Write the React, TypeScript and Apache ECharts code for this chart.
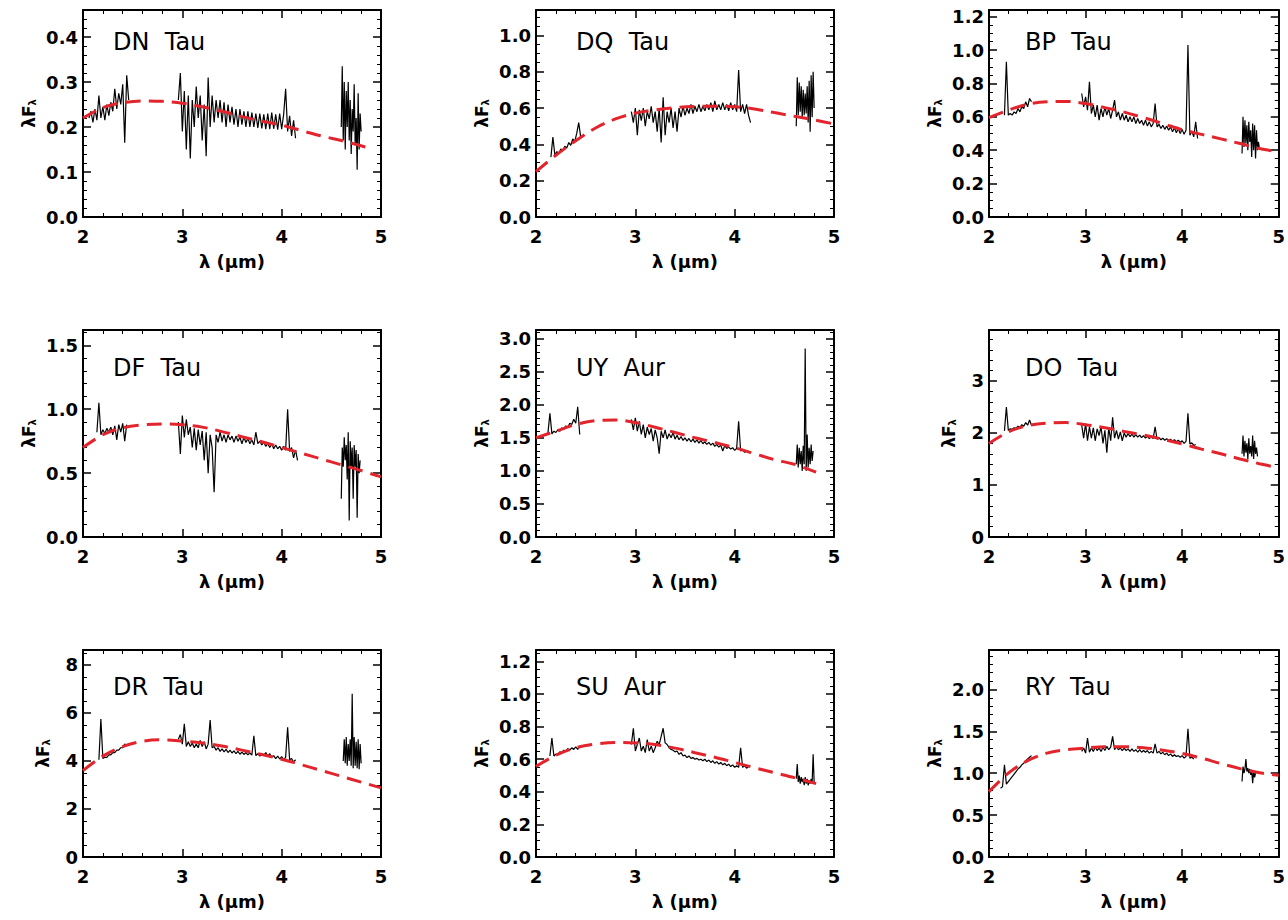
import React, { useEffect, useRef } from 'react';
import * as echarts from 'echarts';

// ---------- tick labels / names ----------
const xTickValues = [2, 3, 4, 5];
const starNames = ['DN  Tau', 'DQ  Tau', 'BP  Tau', 'DF  Tau', 'UY  Aur', 'DO  Tau', 'DR  Tau', 'SU  Aur', 'RY  Tau'];
const yMaxes = [0.46, 1.14, 1.24, 1.62, 3.13, 3.98, 8.62, 1.27, 2.47];
const yIntervals = [0.1, 0.2, 0.2, 0.5, 0.5, 1, 2, 0.2, 0.5];

// ---------- DN Tau ----------
const dnTauRanges = [[2.06, 2.46], [2.96, 4.14], [4.6, 4.8]];
const dnTauK = [0.22, 0.235, 0.21, 0.24, 0.215, 0.27, 0.22, 0.245, 0.215, 0.25, 0.225, 0.255, 0.235, 0.285, 0.24, 0.275, 0.25, 0.295, 0.165, 0.315, 0.26];
const dnTauL = [0.26, 0.32, 0.19, 0.28, 0.15, 0.27, 0.13, 0.26, 0.2, 0.29, 0.22, 0.27, 0.17, 0.25, 0.135, 0.31, 0.2, 0.27, 0.21, 0.26, 0.22, 0.26, 0.21, 0.255, 0.2, 0.25, 0.21, 0.245, 0.205, 0.24, 0.2, 0.24, 0.205, 0.235, 0.2, 0.235, 0.2, 0.232, 0.2, 0.23, 0.198, 0.23, 0.197, 0.228, 0.195, 0.23, 0.195, 0.232, 0.196, 0.228, 0.194, 0.23, 0.195, 0.228, 0.285, 0.19, 0.225, 0.18, 0.215, 0.175];
const dnTauM = [0.2, 0.335, 0.17, 0.3, 0.15, 0.28, 0.2, 0.3, 0.17, 0.26, 0.14, 0.24, 0.19, 0.295, 0.16, 0.22, 0.105, 0.275, 0.15, 0.23, 0.19];
const dnTauModel = [[2.0, 0.22], [2.2, 0.243], [2.4, 0.254], [2.6, 0.258], [2.8, 0.257], [3.0, 0.253], [3.2, 0.245], [3.4, 0.235], [3.6, 0.223], [3.8, 0.213], [4.0, 0.204], [4.2, 0.192], [4.4, 0.18], [4.6, 0.17], [4.85, 0.155]];

// ---------- DQ Tau ----------
const dqTauRanges = [[2.15, 2.45], [2.96, 4.16], [4.62, 4.8]];
const dqTauK = [0.33, 0.44, 0.34, 0.36, 0.35, 0.375, 0.365, 0.39, 0.38, 0.41, 0.395, 0.43, 0.415, 0.46, 0.52, 0.44];
const dqTauL = [0.58, 0.52, 0.6, 0.45, 0.59, 0.53, 0.6, 0.5, 0.58, 0.54, 0.61, 0.52, 0.58, 0.47, 0.6, 0.41, 0.66, 0.45, 0.58, 0.52, 0.6, 0.49, 0.58, 0.47, 0.6, 0.55, 0.61, 0.56, 0.6, 0.57, 0.62, 0.57, 0.61, 0.58, 0.62, 0.58, 0.61, 0.585, 0.62, 0.59, 0.63, 0.58, 0.64, 0.59, 0.62, 0.59, 0.63, 0.59, 0.62, 0.585, 0.63, 0.59, 0.62, 0.58, 0.81, 0.58, 0.62, 0.57, 0.62, 0.56, 0.52];
const dqTauM = [0.5, 0.77, 0.56, 0.74, 0.58, 0.72, 0.55, 0.7, 0.56, 0.68, 0.57, 0.72, 0.52, 0.75, 0.47, 0.78, 0.55, 0.8, 0.6];
const dqTauModel = [[2.0, 0.25], [2.2, 0.34], [2.4, 0.42], [2.6, 0.49], [2.8, 0.54], [3.0, 0.572], [3.2, 0.59], [3.4, 0.602], [3.6, 0.608], [3.8, 0.61], [4.0, 0.607], [4.2, 0.595], [4.4, 0.575], [4.6, 0.555], [4.8, 0.535], [5.0, 0.512]];

// ---------- BP Tau ----------
const bpTauRanges = [[2.16, 2.44], [2.96, 4.16], [4.62, 4.8]];
const bpTauK = [0.61, 0.93, 0.61, 0.62, 0.61, 0.63, 0.62, 0.65, 0.63, 0.66, 0.65, 0.69, 0.66, 0.71, 0.69];
const bpTauL = [0.74, 0.66, 0.72, 0.64, 0.81, 0.62, 0.67, 0.6, 0.67, 0.58, 0.65, 0.6, 0.66, 0.61, 0.65, 0.59, 0.64, 0.7, 0.6, 0.63, 0.58, 0.62, 0.58, 0.61, 0.57, 0.6, 0.57, 0.6, 0.56, 0.59, 0.56, 0.58, 0.55, 0.58, 0.545, 0.57, 0.54, 0.56, 0.68, 0.54, 0.555, 0.53, 0.55, 0.525, 0.545, 0.52, 0.54, 0.51, 0.535, 0.505, 0.53, 0.5, 0.525, 0.495, 0.52, 1.03, 0.49, 0.515, 0.48, 0.57, 0.47];
const bpTauM = [0.38, 0.6, 0.42, 0.58, 0.44, 0.55, 0.4, 0.57, 0.45, 0.52, 0.36, 0.56, 0.4, 0.55, 0.35, 0.52, 0.4, 0.45, 0.41];
const bpTauModel = [[2.0, 0.595], [2.2, 0.64], [2.4, 0.675], [2.6, 0.69], [2.8, 0.692], [3.0, 0.68], [3.2, 0.655], [3.4, 0.628], [3.6, 0.595], [3.8, 0.56], [4.0, 0.523], [4.2, 0.495], [4.4, 0.468], [4.6, 0.44], [4.8, 0.41], [5.0, 0.39]];

// ---------- DF Tau ----------
const dfTauRanges = [[2.14, 2.44], [2.96, 4.16], [4.6, 4.79]];
const dfTauK = [0.82, 1.05, 0.8, 0.84, 0.81, 0.85, 0.82, 0.86, 0.8, 0.87, 0.76, 0.88, 0.82, 0.89, 0.75, 0.88];
const dfTauL = [0.9, 0.65, 0.95, 0.78, 0.92, 0.8, 0.86, 0.7, 0.85, 0.68, 0.84, 0.72, 0.83, 0.6, 0.82, 0.5, 0.8, 0.7, 0.35, 0.8, 0.74, 0.82, 0.75, 0.8, 0.74, 0.8, 0.76, 0.79, 0.74, 0.79, 0.75, 0.78, 0.73, 0.78, 0.74, 0.77, 0.73, 0.76, 0.72, 0.82, 0.73, 0.75, 0.72, 0.74, 0.71, 0.73, 0.7, 0.73, 0.69, 0.72, 0.69, 0.71, 0.68, 0.71, 0.68, 1.0, 0.67, 0.7, 0.62, 0.68, 0.6];
const dfTauM = [0.3, 0.7, 0.55, 0.78, 0.6, 0.72, 0.45, 0.82, 0.13, 0.75, 0.55, 0.7, 0.3, 0.72, 0.55, 0.68, 0.15, 0.65, 0.5, 0.6];
const dfTauModel = [[2.0, 0.7], [2.2, 0.8], [2.4, 0.855], [2.6, 0.878], [2.8, 0.885], [3.0, 0.878], [3.2, 0.86], [3.4, 0.825], [3.6, 0.785], [3.8, 0.745], [4.0, 0.7], [4.2, 0.655], [4.4, 0.61], [4.6, 0.565], [4.8, 0.52], [5.0, 0.47]];

// ---------- UY Aur ----------
const uyAurRanges = [[2.12, 2.44], [2.96, 4.12], [4.62, 4.79]];
const uyAurK = [1.57, 1.87, 1.56, 1.6, 1.58, 1.62, 1.6, 1.65, 1.63, 1.68, 1.66, 1.72, 1.7, 1.78, 1.72, 1.97, 1.55];
const uyAurL = [1.78, 1.62, 1.8, 1.6, 1.75, 1.55, 1.7, 1.5, 1.66, 1.55, 1.64, 1.45, 1.62, 1.5, 1.26, 1.6, 1.5, 1.62, 1.48, 1.56, 1.5, 1.58, 1.48, 1.54, 1.47, 1.52, 1.46, 1.5, 1.45, 1.49, 1.44, 1.48, 1.43, 1.47, 1.42, 1.46, 1.41, 1.44, 1.4, 1.43, 1.39, 1.42, 1.37, 1.4, 1.36, 1.39, 1.3, 1.38, 1.34, 1.36, 1.33, 1.35, 1.31, 1.34, 1.75, 1.3, 1.32, 1.28, 1.3];
const uyAurM = [1.1, 1.4, 1.05, 1.35, 1.1, 1.3, 1.0, 1.38, 1.1, 2.85, 1.0, 1.55, 1.05, 1.35, 1.1, 1.4, 1.15, 1.3];
const uyAurModel = [[2.0, 1.5], [2.2, 1.6], [2.4, 1.7], [2.6, 1.76], [2.8, 1.77], [3.0, 1.73], [3.2, 1.66], [3.4, 1.58], [3.6, 1.5], [3.8, 1.43], [4.0, 1.35], [4.2, 1.26], [4.4, 1.17], [4.6, 1.1], [4.82, 0.98]];

// ---------- DO Tau ----------
const doTauRanges = [[2.16, 2.44], [2.96, 4.14], [4.62, 4.78]];
const doTauK = [2.04, 2.5, 2.05, 2.08, 2.07, 2.1, 2.09, 2.13, 2.11, 2.16, 2.13, 2.2, 2.15, 2.25, 2.15];
const doTauL = [2.15, 1.9, 2.18, 1.85, 2.12, 1.9, 2.1, 1.85, 2.08, 1.95, 2.12, 1.8, 2.05, 1.62, 2.1, 1.85, 2.3, 1.9, 2.05, 1.88, 2.02, 1.85, 2.0, 1.92, 1.99, 1.93, 1.98, 1.92, 1.97, 1.92, 1.96, 1.91, 1.95, 1.9, 1.94, 1.89, 1.93, 1.89, 2.12, 1.88, 1.91, 1.87, 1.9, 1.86, 1.89, 1.85, 1.88, 1.84, 1.87, 1.83, 1.86, 1.82, 1.85, 1.8, 1.84, 2.38, 1.79, 1.81, 1.76, 1.78];
const doTauM = [1.6, 1.95, 1.55, 1.85, 1.62, 1.8, 1.5, 1.9, 1.6, 1.75, 1.55, 1.95, 1.5, 1.85, 1.6, 1.72, 1.55];
const doTauModel = [[2.0, 1.8], [2.2, 2.02], [2.4, 2.14], [2.6, 2.19], [2.8, 2.2], [3.0, 2.16], [3.2, 2.1], [3.4, 2.03], [3.6, 1.96], [3.8, 1.88], [4.0, 1.79], [4.2, 1.69], [4.4, 1.6], [4.6, 1.5], [4.8, 1.41], [5.0, 1.33]];

// ---------- DR Tau ----------
const drTauRanges = [[2.16, 2.44], [2.96, 4.14], [4.62, 4.8]];
const drTauK = [4.05, 5.75, 4.1, 4.15, 4.15, 4.25, 4.25, 4.35, 4.35, 4.45, 4.45, 4.55, 4.55, 4.7, 4.65];
const drTauL = [4.9, 5.1, 4.7, 5.55, 4.6, 4.8, 4.6, 4.75, 4.55, 4.7, 4.55, 4.85, 4.6, 4.8, 4.5, 4.7, 5.7, 4.55, 4.6, 4.45, 4.55, 4.4, 4.5, 4.38, 4.48, 4.35, 4.45, 4.33, 4.42, 4.3, 4.4, 4.28, 4.37, 4.27, 4.35, 4.25, 4.33, 4.24, 5.05, 4.22, 4.3, 4.2, 4.3, 4.22, 4.35, 4.2, 4.3, 4.15, 4.22, 4.1, 4.2, 4.08, 4.18, 4.05, 4.15, 5.4, 4.05, 4.1, 3.95, 4.05];
const drTauM = [4.0, 4.9, 3.9, 5.0, 3.8, 4.7, 4.0, 4.9, 3.8, 6.8, 3.7, 5.0, 3.8, 4.8, 3.7, 4.9, 3.65, 4.7, 3.9];
const drTauModel = [[2.0, 3.6], [2.2, 4.2], [2.4, 4.6], [2.6, 4.82], [2.8, 4.88], [3.0, 4.83], [3.2, 4.75], [3.4, 4.62], [3.6, 4.45], [3.8, 4.27], [4.0, 4.07], [4.2, 3.84], [4.4, 3.6], [4.6, 3.36], [4.8, 3.12], [5.0, 2.88]];

// ---------- SU Aur ----------
const suAurRanges = [[2.14, 2.44], [2.96, 4.14], [4.62, 4.8]];
const suAurK = [0.62, 0.73, 0.62, 0.63, 0.63, 0.645, 0.64, 0.655, 0.65, 0.665, 0.655, 0.67, 0.66, 0.675, 0.66, 0.68];
const suAurL = [0.69, 0.79, 0.65, 0.69, 0.73, 0.65, 0.68, 0.64, 0.72, 0.65, 0.68, 0.64, 0.67, 0.71, 0.69, 0.74, 0.79, 0.7, 0.69, 0.67, 0.66, 0.655, 0.645, 0.65, 0.63, 0.64, 0.62, 0.625, 0.61, 0.62, 0.605, 0.61, 0.6, 0.605, 0.595, 0.6, 0.59, 0.6, 0.585, 0.595, 0.58, 0.59, 0.575, 0.585, 0.57, 0.58, 0.565, 0.575, 0.56, 0.57, 0.555, 0.565, 0.55, 0.56, 0.55, 0.67, 0.55, 0.56, 0.545, 0.555];
const suAurM = [0.48, 0.57, 0.46, 0.5, 0.45, 0.49, 0.46, 0.48, 0.44, 0.49, 0.45, 0.48, 0.44, 0.47, 0.45, 0.48, 0.46, 0.63, 0.46];
const suAurModel = [[2.0, 0.555], [2.2, 0.625], [2.4, 0.67], [2.6, 0.693], [2.8, 0.702], [3.0, 0.7], [3.2, 0.69], [3.4, 0.668], [3.6, 0.64], [3.8, 0.612], [4.0, 0.58], [4.2, 0.548], [4.4, 0.517], [4.6, 0.487], [4.82, 0.45]];

// ---------- RY Tau ----------
const ryTauRanges = [[2.12, 2.44], [2.96, 4.12], [4.62, 4.76]];
const ryTauK = [0.82, 0.84, 1.1, 0.87, 0.9, 0.93, 0.96, 0.99, 1.02, 1.05, 1.07, 1.1, 1.12, 1.15, 1.17, 1.19, 1.21];
const ryTauL = [1.26, 1.3, 1.24, 1.42, 1.25, 1.3, 1.26, 1.31, 1.27, 1.3, 1.26, 1.31, 1.27, 1.32, 1.28, 1.31, 1.44, 1.28, 1.32, 1.28, 1.3, 1.27, 1.3, 1.27, 1.29, 1.26, 1.29, 1.26, 1.28, 1.25, 1.28, 1.25, 1.27, 1.25, 1.27, 1.24, 1.26, 1.24, 1.35, 1.24, 1.26, 1.23, 1.25, 1.22, 1.24, 1.21, 1.23, 1.2, 1.22, 1.2, 1.21, 1.19, 1.21, 1.18, 1.2, 1.53, 1.18, 1.19, 1.17];
const ryTauM = [0.9, 1.08, 1.0, 1.05, 1.17, 1.02, 1.06, 1.0, 1.05, 0.98, 1.04, 0.88, 1.03, 0.95, 1.0];
const ryTauModel = [[2.0, 0.78], [2.2, 1.0], [2.4, 1.15], [2.6, 1.24], [2.8, 1.28], [3.0, 1.3], [3.2, 1.315], [3.4, 1.315], [3.6, 1.305], [3.8, 1.275], [4.0, 1.235], [4.2, 1.18], [4.4, 1.115], [4.6, 1.055], [4.8, 1.005], [5.0, 0.975]];

const panelRanges = [dnTauRanges, dqTauRanges, bpTauRanges, dfTauRanges, uyAurRanges, doTauRanges, drTauRanges, suAurRanges, ryTauRanges];
const panelSegments = [
  [dnTauK, dnTauL, dnTauM], [dqTauK, dqTauL, dqTauM], [bpTauK, bpTauL, bpTauM],
  [dfTauK, dfTauL, dfTauM], [uyAurK, uyAurL, uyAurM], [doTauK, doTauL, doTauM],
  [drTauK, drTauL, drTauM], [suAurK, suAurL, suAurM], [ryTauK, ryTauL, ryTauM],
];
const panelModels = [dnTauModel, dqTauModel, bpTauModel, dfTauModel, uyAurModel, doTauModel, drTauModel, suAurModel, ryTauModel];

// ---------- layout ----------
const FONT = 'DejaVu Sans';
const COL_LEFT = [83, 536, 989];
const ROW_TOP = [10, 330, 650];
const PW = 298;
const PH = 207;
const NAME_DX = [30, 40, 36];
const NAME_DY = [32, 38, 37];
const RED = '#e2252c';

function buildOption() {
  const grid: any[] = [];
  const xAxis: any[] = [];
  const yAxis: any[] = [];
  const series: any[] = [];
  const graphic: any[] = [];

  const tickStyle = { color: '#000', width: 1.5 };
  const minorStyle = { color: '#000', width: 1 };
  const lineStyle = { color: '#000', width: 2 };

  for (let i = 0; i < 9; i++) {
    const col = i % 3;
    const row = Math.floor(i / 3);
    const left = COL_LEFT[col];
    const top = ROW_TOP[row];
    grid.push({ left, top, width: PW, height: PH, show: false, containLabel: false });

    const interval = yIntervals[i];
    const dec = interval < 1 ? 1 : 0;
    const yMinor = interval === 0.2 || interval === 2 ? 4 : 5;

    const xBase = {
      gridIndex: i, type: 'value', min: 2, max: 5, interval: 1,
      axisLine: { show: true, onZero: false, lineStyle },
      axisTick: { show: true, inside: true, length: 8, lineStyle: tickStyle },
      minorTick: { show: true, splitNumber: 5, length: 4, lineStyle: minorStyle },
      splitLine: { show: false }, minorSplitLine: { show: false },
    };
    xAxis.push({
      ...xBase, position: 'bottom',
      axisLabel: {
        show: true, color: '#000', fontSize: 18, fontWeight: 'bold', fontFamily: FONT, margin: 10,
        formatter: (v: number) => (xTickValues.includes(Math.round(v)) && Math.abs(v - Math.round(v)) < 1e-6 ? String(Math.round(v)) : ''),
      },
      name: 'λ (μm)', nameLocation: 'middle', nameGap: 35,
      nameTextStyle: { color: '#000', fontSize: 18, fontWeight: 'bold', fontFamily: FONT },
    });
    xAxis.push({ ...xBase, position: 'top', axisLabel: { show: false } });

    const yBase = {
      gridIndex: i, type: 'value', min: 0, max: yMaxes[i], interval,
      axisLine: { show: true, onZero: false, lineStyle },
      axisTick: { show: true, inside: true, length: 8, lineStyle: tickStyle },
      minorTick: { show: true, splitNumber: yMinor, length: 4, lineStyle: minorStyle },
      splitLine: { show: false }, minorSplitLine: { show: false },
    };
    yAxis.push({
      ...yBase, position: 'left',
      axisLabel: {
        show: true, color: '#000', fontSize: 18, fontWeight: 'bold', fontFamily: FONT, margin: 5,
        formatter: (v: number) => {
          const k = v / interval;
          if (Math.abs(k - Math.round(k)) > 1e-6) return '';
          return v.toFixed(dec);
        },
      },
      name: '{a|λF}{b|λ}', nameLocation: 'middle', nameGap: dec ? 46 : 32,
      nameTextStyle: {
        color: '#000', fontFamily: FONT, fontWeight: 'bold',
        rich: {
          a: { fontSize: 17, fontWeight: 'bold', fontFamily: FONT, color: '#000', lineHeight: 21, verticalAlign: 'bottom' },
          b: { fontSize: 10, fontWeight: 'bold', fontFamily: FONT, color: '#000', lineHeight: 10, verticalAlign: 'bottom' },
        },
      },
    });
    yAxis.push({ ...yBase, position: 'right', axisLabel: { show: false } });

    const ranges = panelRanges[i];
    const segs = panelSegments[i];
    segs.forEach((vals, j) => {
      const [a, b] = ranges[j];
      const n = vals.length;
      series.push({
        type: 'line', xAxisIndex: 2 * i, yAxisIndex: 2 * i,
        data: vals.map((v, k) => [a + (k * (b - a)) / (n - 1), v]),
        symbol: 'none', showSymbol: false, silent: true, clip: true, z: 2,
        lineStyle: { color: '#000', width: 1.2 },
      });
    });
    series.push({
      type: 'line', xAxisIndex: 2 * i, yAxisIndex: 2 * i,
      data: panelModels[i], smooth: 0.35,
      symbol: 'none', showSymbol: false, silent: true, clip: true, z: 3,
      lineStyle: { color: RED, width: 3, type: [15, 8] },
    });

    graphic.push({
      type: 'text', x: left + NAME_DX[col], y: top + NAME_DY[row],
      style: {
        text: starNames[i], fontSize: 24, fontFamily: FONT, fill: '#000',
        verticalAlign: 'middle', textVerticalAlign: 'middle',
      },
    });
  }

  return {
    animation: false,
    backgroundColor: '#fff',
    grid, xAxis, yAxis, series, graphic,
  };
}

export default function App() {
  const ref = useRef<HTMLDivElement>(null);
  useEffect(() => {
    if (!ref.current) return;
    const chart = echarts.init(ref.current, undefined, { renderer: 'svg' });
    chart.setOption(buildOption() as any);
    return () => chart.dispose();
  }, []);
  return (
    <div
      ref={ref}
      style={{ position: 'absolute', left: 0, top: 0, width: 1288, height: 920, background: '#fff' }}
    />
  );
}
